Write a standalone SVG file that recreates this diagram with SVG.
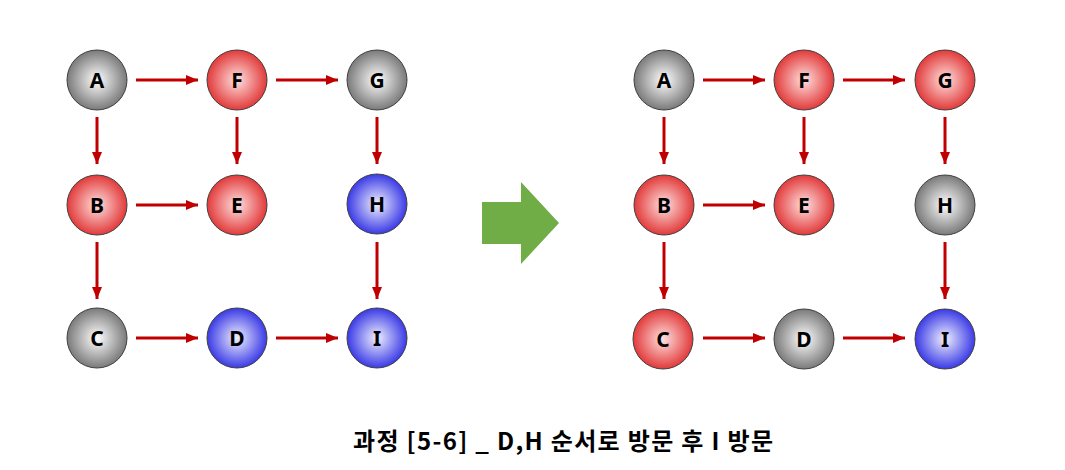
<svg xmlns="http://www.w3.org/2000/svg" width="1065" height="470" viewBox="0 0 1065 470">
<style>
.n circle{stroke:#404040;stroke-width:1}
.g{fill:url(#gg)}
.r{fill:url(#gr)}
.b{fill:url(#gb)}
.n text{font-family:"Noto Sans","Liberation Sans",sans-serif;font-weight:bold;font-size:21px;fill:#000;text-anchor:middle;dominant-baseline:central}
.c line{stroke:#c00000;stroke-width:3;marker-end:url(#ah)}
.title{font-family:"Noto Sans CJK KR","Noto Sans",sans-serif;font-weight:bold;font-size:24px;fill:#000;text-anchor:middle}
</style>
<defs>
<radialGradient id="gg" cx="0.5" cy="0.5" r="0.5"><stop offset="0" stop-color="#ffffff"/><stop offset="1" stop-color="#7a7a7a"/></radialGradient>
<radialGradient id="gr" cx="0.5" cy="0.5" r="0.5"><stop offset="0" stop-color="#ffe0e0"/><stop offset="1" stop-color="#e23a3a"/></radialGradient>
<radialGradient id="gb" cx="0.5" cy="0.5" r="0.5"><stop offset="0" stop-color="#f0f0ff"/><stop offset="1" stop-color="#3a3ae6"/></radialGradient>
<marker id="ah" viewBox="0 0 12 10" refX="12" refY="5" markerWidth="12" markerHeight="10" markerUnits="userSpaceOnUse" orient="auto"><path d="M0,0 L12,5 L0,10 Z" fill="#c00000"/></marker>
</defs>
<g id="connectors" class="c">
<line x1="136" y1="80" x2="198" y2="80"/>
<line x1="276" y1="80" x2="338" y2="80"/>
<line x1="97" y1="117" x2="97" y2="164"/>
<line x1="237" y1="117" x2="237" y2="164"/>
<line x1="377" y1="117" x2="377" y2="164"/>
<line x1="136" y1="205" x2="198" y2="205"/>
<line x1="97" y1="242" x2="97" y2="299"/>
<line x1="377" y1="242" x2="377" y2="299"/>
<line x1="136" y1="338" x2="198" y2="338"/>
<line x1="276" y1="338" x2="338" y2="338"/>
<line x1="703" y1="80" x2="765" y2="80"/>
<line x1="843" y1="80" x2="905" y2="80"/>
<line x1="664" y1="117" x2="664" y2="164"/>
<line x1="804" y1="117" x2="804" y2="164"/>
<line x1="945" y1="117" x2="945" y2="164"/>
<line x1="703" y1="205" x2="765" y2="205"/>
<line x1="664" y1="242" x2="664" y2="299"/>
<line x1="945" y1="242" x2="945" y2="299"/>
<line x1="703" y1="338" x2="765" y2="338"/>
<line x1="843" y1="338" x2="905" y2="338"/>
</g>
<g id="bigarrow"><polygon points="482,202 521,202 521,182 559,223 521,264 521,244 482,244" fill="#70ad47"/></g>
<g id="L_A" class="n"><circle class="g" cx="97" cy="80" r="30"/><text x="97" y="80">A</text></g>
<g id="L_F" class="n"><circle class="r" cx="237" cy="80" r="30"/><text x="237" y="80">F</text></g>
<g id="L_G" class="n"><circle class="g" cx="377" cy="80" r="30"/><text x="377" y="80">G</text></g>
<g id="L_B" class="n"><circle class="r" cx="97" cy="205" r="30"/><text x="97" y="205">B</text></g>
<g id="L_E" class="n"><circle class="r" cx="237" cy="205" r="30"/><text x="237" y="205">E</text></g>
<g id="L_H" class="n"><circle class="b" cx="377" cy="204" r="30"/><text x="377" y="204">H</text></g>
<g id="L_C" class="n"><circle class="g" cx="97" cy="338" r="30"/><text x="97" y="338">C</text></g>
<g id="L_D" class="n"><circle class="b" cx="237" cy="338" r="30"/><text x="237" y="338">D</text></g>
<g id="L_I" class="n"><circle class="b" cx="377" cy="338" r="30"/><text x="377" y="338">I</text></g>
<g id="R_A" class="n"><circle class="g" cx="664" cy="80" r="30"/><text x="664" y="80">A</text></g>
<g id="R_F" class="n"><circle class="r" cx="804" cy="80" r="30"/><text x="804" y="80">F</text></g>
<g id="R_G" class="n"><circle class="r" cx="945" cy="80" r="30"/><text x="945" y="80">G</text></g>
<g id="R_B" class="n"><circle class="r" cx="664" cy="205" r="30"/><text x="664" y="205">B</text></g>
<g id="R_E" class="n"><circle class="r" cx="804" cy="205" r="30"/><text x="804" y="205">E</text></g>
<g id="R_H" class="n"><circle class="g" cx="945" cy="205" r="30"/><text x="945" y="205">H</text></g>
<g id="R_C" class="n"><circle class="r" cx="663" cy="339" r="30"/><text x="663" y="339">C</text></g>
<g id="R_D" class="n"><circle class="g" cx="804" cy="339" r="30"/><text x="804" y="339">D</text></g>
<g id="R_I" class="n"><circle class="b" cx="945" cy="339" r="30"/><text x="945" y="339">I</text></g>
<text class="title" x="563" y="450" textLength="420" lengthAdjust="spacing">과정 [5-6] _ D,H 순서로 방문 후 I 방문</text>
</svg>
